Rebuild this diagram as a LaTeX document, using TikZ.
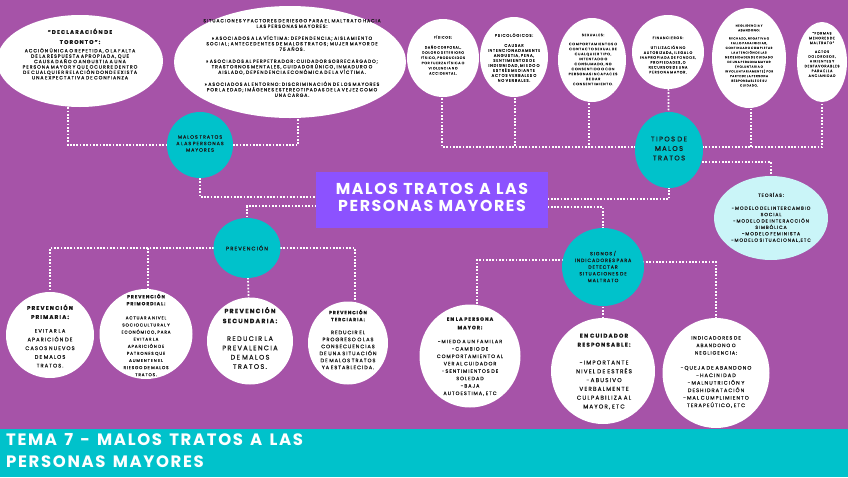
\documentclass[tikz,border=0pt]{standalone}
\usepackage{fontspec}
\setmainfont{Poppins}
\newfontfamily\smallf{Poppins}[LetterSpace=20, FakeBold=0.3]
\newfontfamily\titlef{Poppins}[LetterSpace=10, WordSpace=1.4]
\usetikzlibrary{shapes.geometric,backgrounds}
\setlength{\parindent}{0pt}

\definecolor{fondo}{RGB}{166,83,168}
\definecolor{turquesa}{RGB}{0,194,203}
\definecolor{violeta}{RGB}{140,82,255}
\definecolor{celeste}{RGB}{202,245,248}
\definecolor{tinta}{RGB}{25,25,25}

\newcommand\fsz[2]{\fontsize{#1}{#2}\selectfont}
\newcommand\ws{\spaceskip=0.6em plus 0.1em\relax}

\tikzset{
  bubble/.style={ellipse, fill=white, inner sep=0pt},
  tealbub/.style={bubble, fill=turquesa},
  txt/.style={align=center, text width=260pt, inner sep=0pt, text=tinta},
  link/.style={white, line width=1.7pt, dash pattern=on 1.7pt off 1.6pt},
}

\begin{document}
\begin{tikzpicture}[x=1pt, y=-1pt]
  \useasboundingbox (0,0) rectangle (848,477);

  % burbujas de arriba a la izquierda
  \node[bubble, minimum width=166pt, minimum height=92pt] (toronto) at (80,61) {};
  \node[txt, font={\smallf\fsz{4.7}{5.4}\spaceskip=1em\relax}] (toronto-t) at (80,54)
    {{\bfseries\fsz{5.5}{10}“DECLARACIÓN\ DE\\ TORONTO”:\par}\vspace{3pt}
     ACCIÓN\ ÚNICA\ O\ REPETIDA,\ O\ LA\ FALTA\\ DE\ LA\ RESPUESTA\ APROPIADA,\ QUE\\
     CAUSA\ DAÑO\ O\ ANGUSTIA\ A\ UNA\\ PERSONA\ MAYOR\ Y\ QUE\ OCURRE\ DENTRO\\
     DE\ CUALQUIER\ RELACIÓN\ DONDE\ EXISTA\\ UNA\ EXPECTATIVA\ DE\ CONFIANZA};
  \node[bubble, minimum width=232pt, minimum height=112pt] (sit) at (290,62) {};
  \node[txt, font={\smallf\fsz{4.6}{5.5}\spaceskip=1em\relax}] (sit-t) at (292,58)
    {SITUACIONES\ Y\ FACTORES\ DE\ RIESGO\ PARA\ EL\ MALTRATO\ HACIA\\ LAS\ PERSONAS\ MAYORES:\\[6.5pt]
     »\ ASOCIADOS\ A\ LA\ VÍCTIMA:\ DEPENDENCIA;\ AISLAMIENTO\\ SOCIAL;\ ANTECEDENTES\ DE\ MALOS\ TRATOS;\ MUJER\ MAYOR\ DE\\ 75\ AÑOS.\\[6.5pt]
     »\ ASOCIADOS\ AL\ PERPETRADOR:\ CUIDADOR\ SOBRECARGADO;\\ TRASTORNOS\ MENTALES,\ CUIDADOR\ ÚNICO,\ INMADURO\ O\\ AISLADO,\ DEPENDENCIA\ ECONÓMICA\ DE\ LA\ VÍCTIMA.\\[6.5pt]
     »\ ASOCIADOS\ AL\ ENTORNO:\ DISCRIMINACIÓN\ DE\ LOS\ MAYORES\\ POR\ LA\ EDAD;\ IMÁGENES\ ESTEREOTIPADAS\ DE\ LA\ VEJEZ\ COMO\\ UNA\ CARGA.};
  \node[tealbub, minimum width=66pt, minimum height=66pt] (mtpm) at (200,145) {};
  \node[txt, font={\smallf\fsz{4.8}{6.5}\ws}] (mtpm-t) at (200,143.5)
    {MALOS\ TRATOS\\ A\ LAS\ PERSONAS\\ MAYORES};

  % tipos de malos tratos
  \node[bubble, minimum width=72pt, minimum height=78pt] (fisicos) at (443,58) {};
  \node[txt, font={\smallf\fsz{3.35}{5.2}\ws}] (fisicos-t) at (443,55)
    {FÍSICOS:\\[4.8pt] DAÑO\ CORPORAL,\\ DOLOR\ O\ DETERIORO\\ FÍSICO,\ PRODUCIDOS\\
     POR\ FUERZA\ FÍSICA\ O\\ VIOLENCIA\ NO\\ ACCIDENTAL.};
  \node[bubble, minimum width=68pt, minimum height=80pt] (psico) at (514,57) {};
  \node[txt, font={\smallf\fsz{3.85}{5}\ws}] (psico-t) at (514,57.5)
    {PSICOLÓGICOS:\\[5pt] CAUSAR\\ INTENCIONADAMENTE\\ ANGUSTIA,\ PENA,\\ SENTIMIENTOS\ DE\\
     INDIGNIDAD,\ MIEDO\ O\\ ESTRÉS\ MEDIANTE\\ ACTOS\ VERBALES\ O\\ NO\ VERBALES.};
  \node[bubble, minimum width=68pt, minimum height=84pt] (sexual) at (592,60) {};
  \node[txt, font={\smallf\fsz{3.5}{5}\ws}] (sexual-t) at (593,59.5)
    {SEXUALES:\\[4pt] COMPORTAMIENTOS\ O\\ CONTACTO\ SEXUAL\ DE\\ CUALQUIER\ TIPO,\\ INTENTADO\ O\\
     CONSUMADO,\ NO\\ CONSENTIDO\ O\ CON\\ PERSONAS\ INCAPACES\\ DE\ DAR\\ CONSENTIMIENTO.};
  \node[bubble, minimum width=72pt, minimum height=74pt] (financ) at (668,52) {};
  \node[txt, font={\smallf\fsz{3.5}{4.9}\ws}] (financ-t) at (668,55)
    {FINANCIEROS:\\[5pt] UTILIZACIÓN\ NO\\ AUTORIZADA,\ ILEGAL\ O\\ INAPROPIADA\ DE\ FONDOS,\\
     PROPIEDADES,\ O\\ RECURSOS\ DE\ UNA\\ PERSONA\ MAYOR.};
  \node[bubble, minimum width=74pt, minimum height=100pt] (neglig) at (749,58) {};
  \node[txt, font={\smallf\fsz{2.9}{4.7}\ws}] (neglig-t) at (749,55.5)
    {NEGLIGENCIA\ Y\\ ABANDONO:\\[3.5pt] RECHAZO,\ NEGATIVA\ O\\ FALLO\ PARA\ INICIAR,\\
     CONTINUAR\ O\ COMPLETAR\\ LA\ ATENCIÓN\ DE\ LAS\\ NECESIDADES\ DE\ CUIDADO\\
     DE\ UNA\ PERSONA\ MAYOR\\ (VOLUNTARIA\ O\\ INVOLUNTARIAMENTE)\ POR\\
     PARTE\ DE\ LA\ PERSONA\\ RESPONSABLE\ DE\ SU\\ CUIDADO.};
  \node[bubble, minimum width=50pt, minimum height=80pt] (formas) at (822,62) {};
  \node[txt, font={\smallf\fsz{3.4}{4.8}\ws}] (formas-t) at (822,54.5)
    {“FORMAS\\ MENORES\ DE\\ MALTRATO”\\[4pt] ACTOS\\ DOLOROSOS,\\ HIRIENTES\ Y\\
     DESFAVORABLES\\ PARA\ ELLA\\ ANCIANIDAD};
  \node[tealbub, minimum width=68pt, minimum height=76pt] (tipos) at (669,150) {};
  \node[txt, font={\smallf\fsz{6.8}{9.5}\ws}] (tipos-t) at (669,148.5)
    {TIPOS\ DE\\ MALOS\\ TRATOS};
  \node[bubble, fill=celeste, minimum width=114pt, minimum height=84pt] (teorias) at (771,218) {};
  \node[txt, font={\smallf\fsz{4.6}{6.4}\ws}] (teorias-t) at (771,217.5)
    {TEORÍAS:\\[6.5pt] -MODELO\ DEL\ INTERCAMBIO\\ SOCIAL\\ -MODELO\ DE\ INTERACCIÓN\\
     SIMBÓLICA\\ -MODELO\ FEMINISTA\\ -MODELO\ SITUACIONAL,ETC};

  % caja central
  \node[fill=violeta, minimum width=232pt, minimum height=56pt, inner sep=0pt] (titulo) at (432,200) {};
  \node[txt, text=white, font={\titlef\bfseries\fsz{15.8}{17}}] (titulo-t) at (432,197)
    {MALOS TRATOS A LAS\\ PERSONAS MAYORES};

  % prevencion
  \node[tealbub, minimum width=67pt, minimum height=60pt] (prev) at (247,248) {};
  \node[txt, font={\smallf\fsz{5.3}{6}}] (prev-t) at (247,248) {PREVENCIÓN};
  \node[bubble, minimum width=88pt, minimum height=86pt] (primaria) at (50,335) {};
  \node[txt, font={\smallf\fsz{5.2}{8.7}\ws}] (primaria-t) at (50,336)
    {{\bfseries\fsz{5.6}{9}PREVENCIÓN\\ PRIMARIA:\par}\vspace{5pt}
     EVITAR\ LA\\ APARICIÓN\ DE\\ CASOS\ NUEVOS\\ DE\ MALOS\\ TRATOS.};
  \node[bubble, minimum width=93pt, minimum height=90pt] (primord) at (146,334) {};
  \node[txt, font={\smallf\fsz{4.2}{7.1}\ws}] (primord-t) at (146,335)
    {{\bfseries\fsz{4.6}{7}PREVENCIÓN\\ PRIMORDIAL:\par}\vspace{7pt}
     ACTUAR\ A\ NIVEL\\ SOCIOCULTURAL\ Y\\ ECONÓMICO,\ PARA\\ EVITAR\ LA\\ APARICIÓN\ DE\\
     PATRONES\ QUE\\ AUMENTEN\ EL\\ RIESGO\ DE\ MALOS\\ TRATOS.};
  \node[bubble, minimum width=86pt, minimum height=87pt] (secund) at (250,341) {};
  \node[txt, font={\smallf\fsz{6.6}{9.3}\ws}] (secund-t) at (250,338)
    {{\bfseries\fsz{6.2}{10}PREVENCIÓN\\ SECUNDARIA:\par}\vspace{8.5pt}
     REDUCIR\ LA\\ PREVALENCIA\\ DE\ MALOS\\ TRATOS.};
  \node[bubble, minimum width=80pt, minimum height=83pt] (terc) at (348,343) {};
  \node[txt, font={\smallf\fsz{5}{7}\ws}] (terc-t) at (348,339.5)
    {{\bfseries\fsz{4.6}{7}PREVENCIÓN\\ TERCIARIA:\par}\vspace{6pt}
     REDUCIR\ EL\\ PROGRESO\ O\ LAS\\ CONSECUENCIAS\\ DE\ UNA\ SITUACIÓN\\
     DE\ MALOS\ TRATOS\\ YA\ ESTABLECIDA.};

  % signos
  \node[tealbub, minimum width=82pt, minimum height=78pt] (signos) at (603,267) {};
  \node[txt, font={\smallf\fsz{4.7}{6.7}\ws}] (signos-t) at (603,266.5)
    {SIGNOS\ /\\ INDICADORES\ PARA\\ DETECTAR\\ SITUACIONES\ DE\\ MALTRATO};
  \node[bubble, minimum width=101pt, minimum height=103pt] (persona) at (470,356) {};
  \node[txt, font={\smallf\fsz{4.9}{7.4}\ws}] (persona-t) at (470,356.5)
    {{\bfseries\fsz{4.9}{8.5}EN\ LA\ PERSONA\\ MAYOR:\par}\vspace{6.5pt}
     -MIEDO\ A\ UN\ FAMILAR\\ -CAMBIO\ DE\\ COMPORTAMIENTO\ AL\\ VER\ AL\ CUIDADOR\\
     -SENTIMIENTOS\ DE\\ SOLEDAD\\ -BAJA\\ AUTOESTIMA,\ ETC};
  \node[bubble, minimum width=104pt, minimum height=106pt] (cuidador) at (603,371) {};
  \node[txt, font={\smallf\fsz{5.7}{8.8}\ws}] (cuidador-t) at (604,371.5)
    {{\bfseries\fsz{5.6}{9}EN\ CUIDADOR\\ RESPONSABLE:\par}\vspace{9pt}
     -IMPORTANTE\\ NIVEL\ DE\ ESTRÉS\\ -ABUSIVO\\ VERBALMENTE\\ CULPABILIZA\ AL\\ MAYOR,\ ETC};
  \node[bubble, minimum width=107pt, minimum height=110pt] (indic) at (716,373) {};
  \node[txt, font={\smallf\fsz{5.1}{7.5}\ws}] (indic-t) at (716,372)
    {{\fsz{4.8}{7.5}INDICADORES\ DE\\ ABANDONO\ O\\ NEGLIGENCIA:\par}\vspace{7.5pt}
     -QUEJA\ DE\ ABANDONO\\ -HACINIDAD\\ -MALNUTRICIÓN\ Y\\ DESHIDRATACIÓN\\
     -MAL\ CUMPLIMIENTO\\ TERAPEÚTICO,\ ETC};

  % lineas punteadas
  \begin{scope}[on background layer]
    \fill[fondo] (0,0) rectangle (848,477);
    \draw[link] ([xshift=-12pt]toronto.center) |- (mtpm.center);
    \draw[link] (mtpm.center) -| ([xshift=8pt]sit.center);
    \draw[link] (mtpm.center) |- ([yshift=3pt]titulo.center);
    \draw[link] ([yshift=-6pt]titulo.center) -| (prev.center);
    \draw[link] (prev.center) -| (primaria.center);
    \draw[link] (prev.center) -| ([xshift=2pt]primord.center);
    \draw[link] (prev.center) -- (secund.center);
    \draw[link] (prev.center) -| ([xshift=7pt]terc.center);
    \draw[link] ([yshift=1pt]titulo.center) -| (tipos.center);
    \draw[link] ([yshift=-7pt]titulo.center) -| (signos.center);
    \draw[link] ([yshift=3pt]tipos.center) -| ([xshift=-1pt]fisicos.center);
    \draw[link] ([yshift=3pt]tipos.center) -| ([xshift=1pt]psico.center);
    \draw[link] ([yshift=3pt]tipos.center) -| ([xshift=-3pt]sexual.center);
    \draw[link] ([yshift=3pt]tipos.center) -| ([xshift=2pt]neglig.center);
    \draw[link] ([yshift=3pt]tipos.center) -| (formas.center);
    \draw[link] (tipos.center) -- (financ.center);
    \draw[link] ([yshift=-12pt]tipos.center) -| (teorias.center);
    \draw[link] ([yshift=7pt]signos.center) -| ([xshift=7pt]persona.center);
    \draw[link] (signos.center) -- (cuidador.center);
    \draw[link] ([yshift=5pt]signos.center) -| (indic.center);
  \end{scope}

  % banda inferior
  \fill[turquesa] (0,429) rectangle (848,477);
  \node[anchor=north west, inner sep=0pt, text=white, align=left,
        font={\titlef\bfseries\fsz{16.5}{22}}] (tema) at (6,433)
    {TEMA 7 - MALOS TRATOS A LAS\\ PERSONAS MAYORES};
\end{tikzpicture}
\end{document}
